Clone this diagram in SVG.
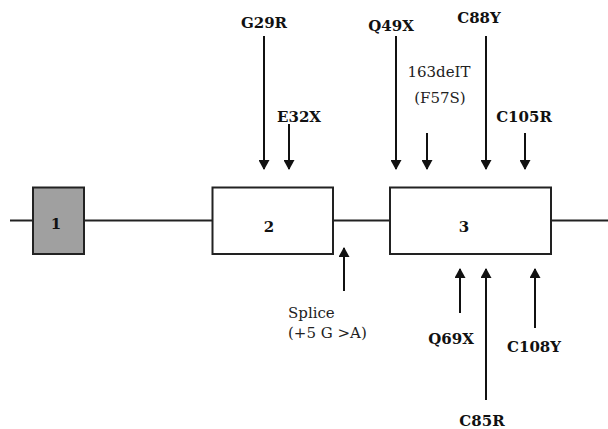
<svg xmlns="http://www.w3.org/2000/svg" width="608" height="429" viewBox="0 0 608 429">
<style>
.b{font-family:"DejaVu Serif","Liberation Serif",serif;font-weight:bold;font-size:15px;fill:#111;text-anchor:middle}
.r{font-family:"DejaVu Serif","Liberation Serif",serif;font-size:15px;fill:#222}
.box{stroke:#222;stroke-width:2}
.ar{stroke:#111;stroke-width:2;fill:none;marker-end:url(#ah)}
</style>
<defs>
<marker id="ah" viewBox="0 0 10 11" refX="9" refY="5.5" markerWidth="10" markerHeight="11" markerUnits="userSpaceOnUse" orient="auto">
<path d="M0,0 L10,5.5 L0,11 Z" fill="#111"/>
</marker>
</defs>
<rect width="608" height="429" fill="#fff"/>
<g id="connectors">
<line x1="10" y1="220.5" x2="608" y2="220.5" stroke="#222" stroke-width="1.8"/>
<line class="ar" x1="264" y1="36" x2="264" y2="169"/>
<line class="ar" x1="289" y1="124" x2="289" y2="169"/>
<line class="ar" x1="396" y1="36" x2="396" y2="169"/>
<line class="ar" x1="427" y1="133" x2="427" y2="169"/>
<line class="ar" x1="486" y1="36" x2="486" y2="169"/>
<line class="ar" x1="525" y1="133" x2="525" y2="169"/>
<line class="ar" x1="344" y1="291" x2="344" y2="248"/>
<line class="ar" x1="460" y1="313" x2="460" y2="269"/>
<line class="ar" x1="486" y1="400" x2="486" y2="269"/>
<line class="ar" x1="535" y1="328" x2="535" y2="269"/>
</g>
<g id="exon1">
<rect class="box" x="33" y="187.5" width="51" height="66.5" fill="#a0a0a0"/>
<text class="b" x="56" y="229">1</text>
</g>
<g id="exon2">
<rect class="box" x="212.5" y="187.5" width="120.5" height="66.5" fill="#fff"/>
<text class="b" x="269" y="232">2</text>
</g>
<g id="exon3">
<rect class="box" x="390" y="187.5" width="161" height="66.5" fill="#fff"/>
<text class="b" x="464" y="232">3</text>
</g>
<g id="labels">
<text class="b" x="264" y="28">G29R</text>
<text class="b" x="299" y="122">E32X</text>
<text class="b" x="391" y="31">Q49X</text>
<text class="b" x="479" y="23">C88Y</text>
<text class="r" x="439" y="77" text-anchor="middle">163deIT</text>
<text class="r" x="440" y="103" text-anchor="middle">(F57S)</text>
<text class="b" x="524" y="122">C105R</text>
<text class="r" x="288" y="318">Splice</text>
<text class="r" x="288" y="338">(+5 G &gt;A)</text>
<text class="b" x="451" y="344">Q69X</text>
<text class="b" x="534" y="352">C108Y</text>
<text class="b" x="482" y="426">C85R</text>
</g>
</svg>
